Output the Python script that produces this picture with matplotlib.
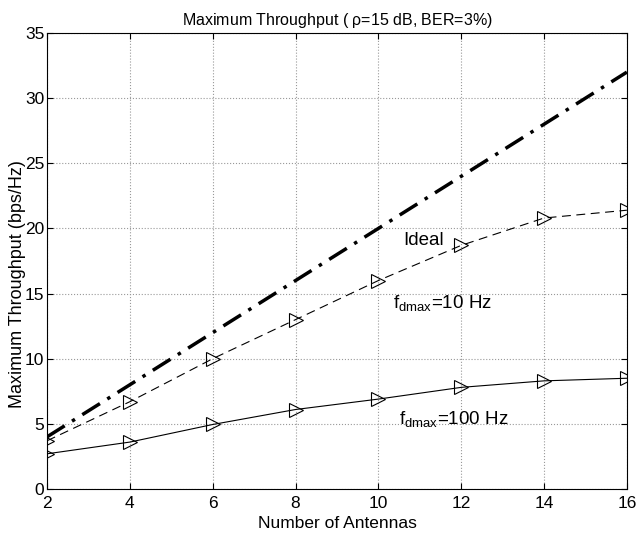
import matplotlib
matplotlib.use('Agg')
import matplotlib.pyplot as plt

plt.rcParams['font.family'] = ['Liberation Sans', 'DejaVu Sans']

antennas = [2, 4, 6, 8, 10, 12, 14, 16]
ideal = [4, 8, 12, 16, 20, 24, 28, 32]
fd10 = [3.7, 6.7, 10.0, 13.0, 16.0, 18.7, 20.8, 21.4]
fd100 = [2.7, 3.6, 4.95, 6.1, 6.9, 7.8, 8.3, 8.5]

fig = plt.figure(figsize=(6.39, 5.33), dpi=100)
ax = fig.add_axes([0.0736, 0.0826, 0.9074, 0.8554])

ax.plot(antennas, ideal, color='black', linestyle='-.', linewidth=2.5,
        dashes=(6, 2.5, 1, 2.5))
ax.plot(antennas, fd10, color='black', linestyle='--', linewidth=0.8,
        dashes=(8, 5), marker='>', markersize=10, markerfacecolor='none',
        markeredgewidth=0.8)
ax.plot(antennas, fd100, color='black', linestyle='-', linewidth=0.8,
        marker='>', markersize=10, markerfacecolor='none', markeredgewidth=0.8)

ax.text(10.6, 19.1, 'Ideal', fontsize=13.5, va='center')
ax.text(10.35, 14.2, r'f$_{\mathregular{dmax}}$=10 Hz', fontsize=13.5, va='center')
ax.text(10.5, 5.3, r'f$_{\mathregular{dmax}}$=100 Hz', fontsize=13.5, va='center')

ax.set_xlim(2, 16)
ax.set_ylim(0, 35)
ax.set_xticks(range(2, 17, 2))
ax.set_yticks(range(0, 36, 5))
ax.tick_params(direction='in', labelsize=12.5, length=4, top=True, right=True, pad=2)
ax.tick_params(axis='x', pad=5)
ax.grid(True, linestyle=':', color='#999999', linewidth=0.8)

ax.set_xlabel('Number of Antennas', fontsize=12.5, labelpad=4)
ax.set_ylabel('Maximum Throughput (bps/Hz)', fontsize=13)
ax.yaxis.set_label_coords(-0.036, 0.45)
ax.set_title(r'Maximum Throughput ( $\mathregular{\rho}$=15 dB, BER=3%)', fontsize=11.5)

fig.savefig('out.png', dpi=100)
